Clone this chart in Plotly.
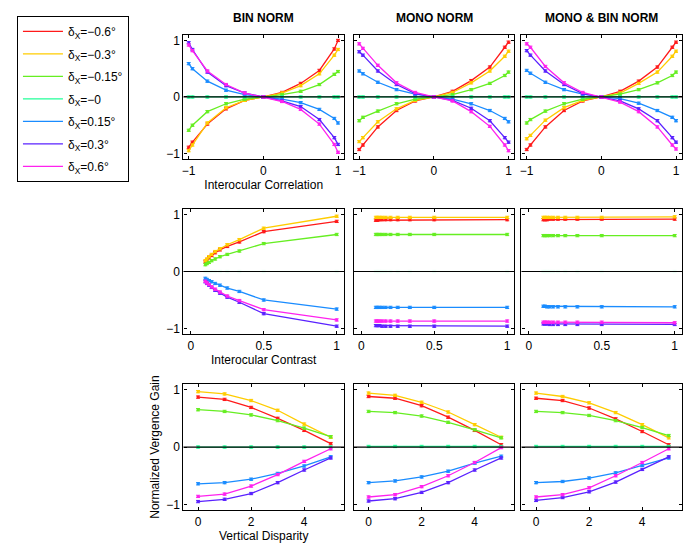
import plotly.graph_objects as go

# ---------------- data ----------------
series_names = ["δ<sub>X</sub>=−0.6°", "δ<sub>X</sub>=−0.3°", "δ<sub>X</sub>=−0.15°", "δ<sub>X</sub>=−0",
                "δ<sub>X</sub>=0.15°", "δ<sub>X</sub>=0.3°", "δ<sub>X</sub>=0.6°"]
colors = ["#ff1a1a", "#ffcc00", "#66ee22", "#22ff99", "#1a8cff", "#5a22ff", "#ff22ee"]
col_titles = ["BIN NORM", "MONO NORM", "MONO &amp; BIN NORM"]

corr_x = [-1, -0.95, -0.75, -0.5, -0.25, 0, 0.25, 0.5, 0.75, 0.95, 1]
contrast_x = [0.1, 0.111, 0.125, 0.143, 0.167, 0.2, 0.25, 0.333, 0.5, 1]
vdisp_x = [0, 1, 2, 3, 4, 5]

# Row 1: interocular correlation
corr_bin = [
    [-0.89, -0.80, -0.48, -0.21, -0.06, 0, 0.08, 0.24, 0.47, 0.85, 1.00],
    [-0.95, -0.85, -0.46, -0.19, -0.06, 0, 0.07, 0.20, 0.41, 0.74, 0.84],
    [-0.59, -0.50, -0.26, -0.12, -0.04, 0, 0.04, 0.10, 0.22, 0.40, 0.45],
    [0, 0, 0, 0, 0, 0, 0, 0, 0, 0, 0],
    [0.59, 0.50, 0.28, 0.12, 0.04, 0, -0.04, -0.10, -0.22, -0.38, -0.46],
    [0.96, 0.84, 0.44, 0.20, 0.07, 0, -0.07, -0.17, -0.40, -0.72, -0.84],
    [0.92, 0.82, 0.46, 0.22, 0.07, 0, -0.08, -0.22, -0.48, -0.84, -0.98],
]
corr_mono = [
    [-0.93, -0.85, -0.53, -0.24, -0.07, 0, 0.10, 0.29, 0.53, 0.88, 0.97],
    [-0.79, -0.72, -0.44, -0.21, -0.06, 0, 0.08, 0.25, 0.46, 0.72, 0.81],
    [-0.42, -0.36, -0.25, -0.12, -0.04, 0, 0.04, 0.13, 0.24, 0.38, 0.44],
    [0, 0, 0, 0, 0, 0, 0, 0, 0, 0, 0],
    [0.46, 0.41, 0.26, 0.13, 0.05, 0, -0.04, -0.12, -0.24, -0.38, -0.44],
    [0.80, 0.74, 0.46, 0.22, 0.06, 0, -0.06, -0.20, -0.42, -0.72, -0.80],
    [0.94, 0.86, 0.56, 0.25, 0.08, 0, -0.07, -0.26, -0.52, -0.85, -0.95],
]
corr_both = [
    [-0.93, -0.85, -0.53, -0.24, -0.07, 0, 0.10, 0.28, 0.53, 0.88, 0.97],
    [-0.74, -0.68, -0.41, -0.19, -0.06, 0, 0.07, 0.24, 0.44, 0.72, 0.81],
    [-0.46, -0.40, -0.25, -0.12, -0.04, 0, 0.05, 0.13, 0.25, 0.38, 0.44],
    [0, 0, 0, 0, 0, 0, 0, 0, 0, 0, 0],
    [0.47, 0.42, 0.26, 0.13, 0.05, 0, -0.03, -0.11, -0.24, -0.36, -0.42],
    [0.82, 0.74, 0.46, 0.22, 0.06, 0, -0.07, -0.21, -0.42, -0.72, -0.80],
    [0.94, 0.88, 0.54, 0.25, 0.08, 0, -0.09, -0.26, -0.53, -0.85, -0.92],
]

# Row 2: interocular contrast
contrast_bin = [
    [0.17, 0.20, 0.24, 0.28, 0.33, 0.38, 0.44, 0.52, 0.70, 0.88],
    [0.19, 0.22, 0.26, 0.30, 0.35, 0.40, 0.47, 0.56, 0.76, 0.97],
    [0.12, 0.14, 0.16, 0.19, 0.22, 0.26, 0.30, 0.36, 0.49, 0.65],
    [0, 0, 0, 0, 0, 0, 0, 0, 0, 0],
    [-0.12, -0.14, -0.16, -0.18, -0.21, -0.24, -0.29, -0.35, -0.50, -0.66],
    [-0.18, -0.21, -0.24, -0.28, -0.33, -0.38, -0.45, -0.54, -0.74, -0.96],
    [-0.17, -0.20, -0.23, -0.27, -0.31, -0.36, -0.43, -0.51, -0.67, -0.85],
]
contrast_mono = [
    [0.90, 0.90, 0.91, 0.91, 0.91, 0.91, 0.91, 0.91, 0.91, 0.91],
    [0.95, 0.95, 0.95, 0.95, 0.95, 0.95, 0.95, 0.95, 0.95, 0.95],
    [0.65, 0.65, 0.65, 0.65, 0.65, 0.65, 0.65, 0.65, 0.65, 0.65],
    [0, 0, 0, 0, 0, 0, 0, 0, 0, 0],
    [-0.63, -0.63, -0.63, -0.63, -0.63, -0.63, -0.63, -0.63, -0.63, -0.63],
    [-0.95, -0.95, -0.95, -0.96, -0.96, -0.96, -0.96, -0.96, -0.96, -0.96],
    [-0.87, -0.87, -0.87, -0.87, -0.87, -0.87, -0.87, -0.87, -0.87, -0.87],
]
contrast_both = [
    [0.91, 0.91, 0.91, 0.92, 0.92, 0.92, 0.92, 0.92, 0.92, 0.92],
    [0.95, 0.95, 0.95, 0.95, 0.95, 0.95, 0.95, 0.95, 0.95, 0.96],
    [0.63, 0.63, 0.63, 0.63, 0.63, 0.63, 0.63, 0.63, 0.63, 0.63],
    [0, 0, 0, 0, 0, 0, 0, 0, 0, 0],
    [-0.61, -0.61, -0.62, -0.62, -0.62, -0.62, -0.62, -0.62, -0.62, -0.62],
    [-0.92, -0.92, -0.92, -0.93, -0.93, -0.93, -0.93, -0.93, -0.93, -0.93],
    [-0.89, -0.89, -0.89, -0.89, -0.89, -0.89, -0.89, -0.89, -0.89, -0.90],
]

# Row 3: vertical disparity
vdisp_bin = [
    [0.87, 0.83, 0.69, 0.50, 0.29, 0.06],
    [0.965, 0.925, 0.81, 0.64, 0.40, 0.17],
    [0.65, 0.62, 0.56, 0.46, 0.33, 0.18],
    [0, 0, 0, 0, 0, 0],
    [-0.64, -0.62, -0.56, -0.46, -0.33, -0.17],
    [-0.95, -0.91, -0.81, -0.62, -0.40, -0.19],
    [-0.86, -0.82, -0.68, -0.48, -0.25, -0.03],
]
vdisp_mono = [
    [0.88, 0.85, 0.72, 0.52, 0.29, 0.04],
    [0.94, 0.90, 0.78, 0.61, 0.39, 0.17],
    [0.62, 0.60, 0.54, 0.43, 0.30, 0.16],
    [0.01, 0.01, 0.01, 0.01, 0.01, 0.01],
    [-0.62, -0.59, -0.52, -0.42, -0.28, -0.16],
    [-0.94, -0.90, -0.79, -0.62, -0.40, -0.19],
    [-0.87, -0.83, -0.69, -0.50, -0.27, -0.01],
]
vdisp_both = [
    [0.85, 0.81, 0.68, 0.49, 0.27, 0.04],
    [0.94, 0.88, 0.77, 0.60, 0.39, 0.16],
    [0.62, 0.60, 0.55, 0.46, 0.34, 0.20],
    [0.01, 0.01, 0.01, 0.01, 0.01, 0.01],
    [-0.62, -0.60, -0.54, -0.45, -0.32, -0.19],
    [-0.93, -0.88, -0.78, -0.61, -0.39, -0.17],
    [-0.87, -0.83, -0.71, -0.50, -0.27, -0.03],
]

row_x = [corr_x, contrast_x, vdisp_x]
panels = [
    [corr_bin, corr_mono, corr_both],
    [contrast_bin, contrast_mono, contrast_both],
    [vdisp_bin, vdisp_mono, vdisp_both],
]
row_xtitles = ["Interocular Correlation", "Interocular Contrast", "Vertical Disparity"]
row_xticks = [[-1, 0, 1], [0, 0.5, 1], [0, 2, 4]]
row_xranges = [[-1.07, 1.08], [-0.05, 1.05], [-0.55, 5.5]]

# ---------------- layout geometry (pixels in the 684x546 window) ----------------
W, H = 684, 546
col_px = [(182, 343), (353, 514), (521, 682)]
row_px = [(34, 159), (209, 335), (385, 512)]


def px_x(p):
    return p / W


def px_y(p):
    return 1 - p / H


FONT = "Liberation Sans, Arial, sans-serif"
fig = go.Figure()

layout_axes = {}
for r in range(3):
    for c in range(3):
        idx = r * 3 + c + 1
        xa = "x" if idx == 1 else f"x{idx}"
        ya = "y" if idx == 1 else f"y{idx}"
        xkey = "xaxis" if idx == 1 else f"xaxis{idx}"
        ykey = "yaxis" if idx == 1 else f"yaxis{idx}"
        x0, x1 = col_px[c]
        y0, y1 = row_px[r]
        common = dict(showline=True, mirror="ticks", linecolor="black", linewidth=1.3,
                      ticks="inside", ticklen=3, tickcolor="black", showgrid=False,
                      zeroline=False, ticklabeloverflow="allow",
                      tickfont=dict(family=FONT, size=12, color="black"))
        layout_axes[xkey] = dict(common, domain=[px_x(x0), px_x(x1)], anchor=ya,
                                 range=row_xranges[r], tickvals=row_xticks[r],
                                 showticklabels=True)
        if c == 0:
            layout_axes[xkey]["title"] = dict(text=row_xtitles[r], standoff=2,
                                              font=dict(family=FONT, size=12, color="black"))
        layout_axes[ykey] = dict(common, domain=[px_y(y1), px_y(y0)], anchor=xa,
                                 range=[-1.1, 1.1], tickvals=[-1, 0, 1],
                                 showticklabels=(c == 0))
        if c == 0 and r == 2:
            layout_axes[ykey]["title"] = dict(text="Normalized Vergence Gain", standoff=4,
                                              font=dict(family=FONT, size=12, color="black"))

        ydata = panels[r][c]
        for s in range(7):
            op = 1.0
            if s == 3 and r == 1:
                op = 0.08
            fig.add_trace(go.Scatter(
                x=row_x[r], y=ydata[s], xaxis=xa, yaxis=ya,
                mode="lines+markers", showlegend=False, opacity=op,
                line=dict(color=colors[s], width=1.3),
                marker=dict(color=colors[s], size=3),
                error_y=dict(type="constant", value=0.02, thickness=1, width=2, color=colors[s]),
            ))
        # zero reference line on top
        fig.add_shape(type="line", xref=f"{xa} domain", yref=ya, x0=0, x1=1, y0=0, y1=0,
                      line=dict(color="black", width=1.2), layer="above")

# legend entries
for s in range(7):
    fig.add_trace(go.Scatter(x=[None], y=[None], mode="lines", name=series_names[s],
                             legendgroup=f"g{s}",
                             line=dict(color=colors[s], width=1.2), showlegend=True))

annotations = []
for c in range(3):
    x0, x1 = col_px[c]
    annotations.append(dict(text=f"<b>{col_titles[c]}</b>", x=px_x((x0 + x1) / 2), y=px_y(17),
                            xref="paper", yref="paper", showarrow=False,
                            font=dict(family=FONT, size=12, color="black"),
                            xanchor="center", yanchor="middle"))

fig.update_layout(
    width=W, height=H, margin=dict(l=0, r=0, t=0, b=0),
    paper_bgcolor="white", plot_bgcolor="white",
    font=dict(family=FONT, size=12, color="black"),
    annotations=annotations,
    legend=dict(x=px_x(15), y=px_y(15), xanchor="left", yanchor="top",
                bordercolor="black", borderwidth=1, bgcolor="white",
                font=dict(family=FONT, size=12, color="black"),
                itemwidth=40, traceorder="grouped", tracegroupgap=3.5),
    **layout_axes,
)

fig.write_html("out.html", config={"displayModeBar": False},
               post_script="document.body.style.margin='0px';document.body.style.overflow='hidden';")
